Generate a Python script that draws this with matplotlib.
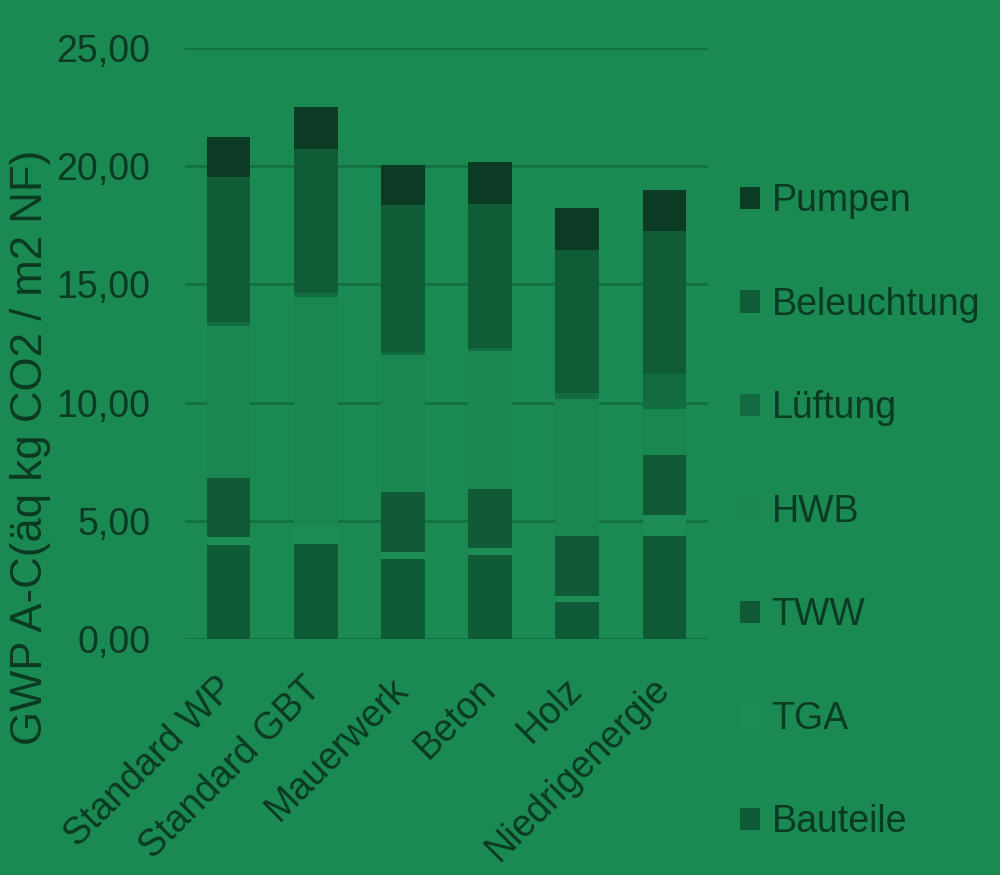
import matplotlib
matplotlib.use("Agg")
import matplotlib.pyplot as plt
import numpy as np

categories = ["Standard WP", "Standard GBT", "Mauerwerk", "Beton", "Holz", "Niedrigenergie"]
series_names = ["Bauteile", "TGA", "TWW", "HWB", "Lüftung", "Beleuchtung", "Pumpen"]
bauteile    = [3.96, 4.00, 3.37, 3.56, 1.55, 4.36]
tga         = [0.34, 0.78, 0.33, 0.27, 0.26, 0.88]
tww         = [2.50, 0.00, 2.51, 2.53, 2.53, 2.53]
hwb         = [6.45, 9.70, 5.79, 5.82, 5.83, 1.98]
lueftung    = [0.16, 0.15, 0.16, 0.11, 0.24, 1.48]
beleuchtung = [6.12, 6.11, 6.18, 6.10, 6.03, 6.02]
pumpen      = [1.70, 1.78, 1.73, 1.77, 1.78, 1.76]
yticks = [0, 5, 10, 15, 20, 25]
ytick_labels = ["0,00", "5,00", "10,00", "15,00", "20,00", "25,00"]
ylabel = "GWP A-C(äq kg CO2 / m2 NF)"

series_values = [bauteile, tga, tww, hwb, lueftung, beleuchtung, pumpen]
colors = ["#0f5a37", "#1d8d55", "#115a37", "#1a8650", "#136b41", "#105c37", "#0b3b24"]
bg = "#1b8a52"
txt = "#0b3a22"
grid_c = "#137040"

plt.rcParams['font.family'] = ['Liberation Sans', 'DejaVu Sans']

fig = plt.figure(figsize=(10, 8.75), dpi=100, facecolor=bg)
ax = fig.add_axes([0.185, 0.2697, 0.523, 0.6754])
ax.set_facecolor(bg)

x = np.arange(len(categories))
bottom = np.zeros(len(categories))
handles = []
for name, vals, c in zip(series_names, series_values, colors):
    h = ax.bar(x, vals, width=0.5, bottom=bottom, color=c, label=name, zorder=3, linewidth=0)
    handles.append(h)
    bottom += np.array(vals)

ax.set_ylim(0, 25)
ax.set_xlim(-0.5, len(categories) - 0.5)
ax.set_yticks(yticks)
ax.set_yticklabels(ytick_labels)
ax.yaxis.grid(True, color=grid_c, linewidth=2, zorder=0)
ax.set_axisbelow(True)
for s in ax.spines.values():
    s.set_visible(False)
ax.tick_params(axis='y', length=0, pad=25, labelsize=27, labelcolor=txt)
ax.tick_params(axis='x', length=0, pad=32, labelsize=27, labelcolor=txt)
ax.set_xticks(x)
ax.set_xticklabels(categories, rotation=45, ha='right', va='center', rotation_mode='anchor')

fig.text(0.031, 0.489, ylabel, rotation=90, ha='center', va='center', fontsize=31.5, color=txt)

leg = fig.legend(handles[::-1], series_names[::-1], loc='upper left',
                 bbox_to_anchor=(0.706, 0.829), frameon=False, fontsize=27,
                 handlelength=0.55, handleheight=0.55, handletextpad=0.3,
                 labelspacing=1.8, labelcolor=txt)

fig.savefig("out.png", dpi=100, facecolor=bg)
